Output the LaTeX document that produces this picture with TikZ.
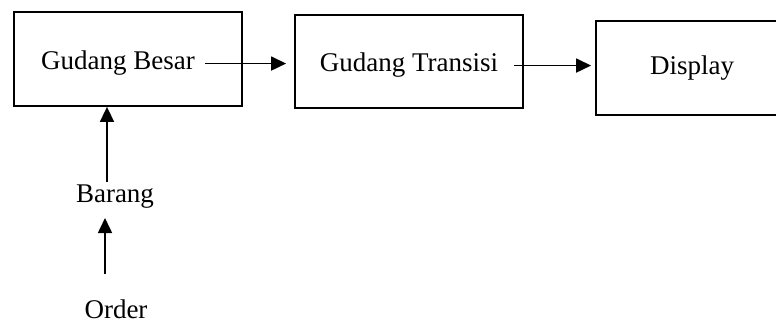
\documentclass[tikz,border=0pt]{standalone}
\usepackage{fontspec}
\setmainfont{Liberation Serif}
\usetikzlibrary{arrows.meta,calc}
\begin{document}
\begin{tikzpicture}[x=1pt,y=-1pt,
  box/.style={draw=black, line width=1.8pt, rectangle, inner sep=0pt},
  lbl/.style={font=\fontsize{27}{31}\selectfont, inner sep=0pt, anchor=base},
  arr/.style={line width=1.7pt, -{Triangle[length=15pt,width=14pt]}}]
\useasboundingbox (0,0) rectangle (776,323);
\clip (0,0) rectangle (776,323);
% boxes
\node[box, minimum width=228pt, minimum height=94pt] (gbbox) at (128,59) {};
\node[lbl] (gb) at (118,70) {Gudang Besar};
\node[box, minimum width=228pt, minimum height=93pt] (gtbox) at (409,61.5) {};
\node[lbl] (gt) at (409,72) {Gudang Transisi};
\node[box, minimum width=194pt, minimum height=94pt] (dpbox) at (693,68) {};
\node[lbl] (dp) at (692,75) {Display};
% lower labels
\node[lbl] (br) at (115,203) {Barang};
\node[lbl] (od) at (116,318) {Order};
% connectors
\draw[arr] ($(gb.east)+(10,0)$) -- ($(gb.east -| gtbox.west)+(-8,0)$);
\draw[arr] ($(gt.east)+(16,0)$) -- ($(gt.east -| dpbox.west)+(-4,0)$);
\coordinate (a3) at ($(br.north)+(-8,-3)$);
\draw[arr] (a3) -- (a3 |- gbbox.south);
\coordinate (a4) at ($(od.north)+(-11,-25)$);
\draw[arr] (a4) -- ($(a4 |- br.south)+(0,9)$);
\end{tikzpicture}
\end{document}
